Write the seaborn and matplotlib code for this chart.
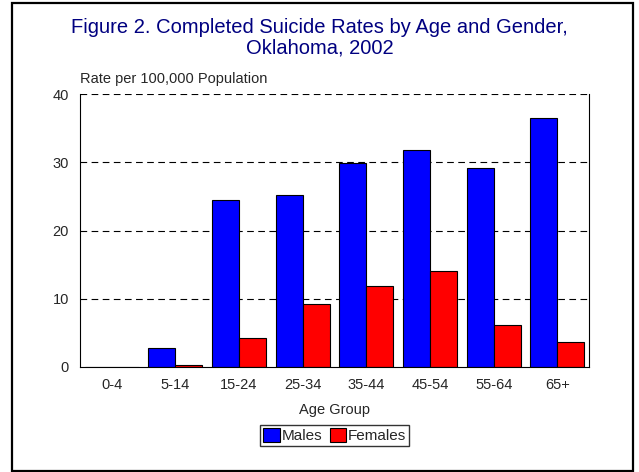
import matplotlib
matplotlib.use("Agg")
import matplotlib.pyplot as plt
import pandas as pd
import seaborn as sns
from matplotlib.patches import Rectangle

age_groups = ["0-4", "5-14", "15-24", "25-34", "35-44", "45-54", "55-64", "65+"]
males = [0.0, 2.8, 24.5, 25.2, 29.9, 31.8, 29.2, 36.5]
females = [0.0, 0.35, 4.3, 9.3, 11.8, 14.0, 6.2, 3.7]
series = ["Males", "Females"]

df = pd.DataFrame({
    "age": age_groups * 2,
    "rate": males + females,
    "gender": [series[0]] * len(age_groups) + [series[1]] * len(age_groups),
})

sns.set_style("white")
plt.rcParams["font.family"] = ["Liberation Sans", "DejaVu Sans"]

fig = plt.figure(figsize=(6.39, 4.72), dpi=100)
ax = fig.add_axes([0.125, 0.2225, 0.797, 0.578])

sns.barplot(
    data=df, x="age", y="rate", hue="gender", order=age_groups,
    hue_order=series, palette=["#0000ff", "#ff0000"], width=0.85,
    edgecolor="black", linewidth=0.8, saturation=1, ax=ax, legend=True,
)

ax.set_ylim(0, 40)
ax.set_yticks([0, 10, 20, 30, 40])
ax.set_xlim(-0.5, len(age_groups) - 0.5)
for y in [10, 20, 30, 40]:
    ax.axhline(y, color="black", linestyle=(0, (6, 4)), linewidth=0.8, zorder=0)
ax.spines["top"].set_visible(False)
for side in ["left", "right", "bottom"]:
    ax.spines[side].set_color("black")
    ax.spines[side].set_linewidth(0.8)
ax.tick_params(axis="both", length=0, labelsize=10.5, pad=8)
ax.set_xlabel("Age Group", fontsize=10.5, labelpad=8)
ax.set_ylabel("")
ax.text(0.0, 1.03, "Rate per 100,000 Population", transform=ax.transAxes,
        fontsize=10.5, ha="left", va="bottom")

handles, labels = ax.get_legend_handles_labels()
ax.get_legend().remove()
fig.legend(handles, labels, loc="center", bbox_to_anchor=(0.5235, 0.077), ncol=2,
           fontsize=11, frameon=True, fancybox=False, edgecolor="black",
           handlelength=1.1, handleheight=1.0, handletextpad=0.1,
           columnspacing=0.5, borderpad=0.2, borderaxespad=0)

fig.text(0.5, 0.92, "Figure 2. Completed Suicide Rates by Age and Gender,\nOklahoma, 2002",
         ha="center", va="center", fontsize=14.5, color="#000080", linespacing=1.1)

fig.patches.append(Rectangle((12 / 639, 1.5 / 472), 621 / 639, 468 / 472,
                             transform=fig.transFigure, fill=False,
                             edgecolor="black", linewidth=1.6))

fig.savefig("out.png", dpi=100)
